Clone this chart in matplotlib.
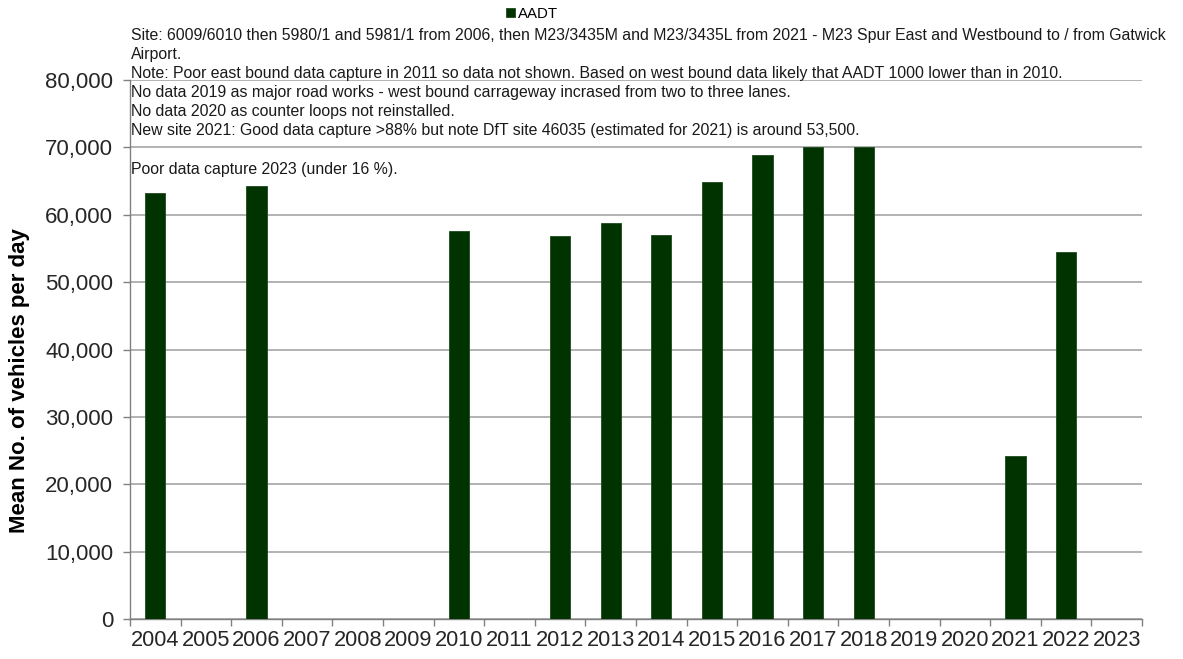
import matplotlib.pyplot as plt
import numpy as np

plt.rcParams["font.family"] = ["Liberation Sans", "DejaVu Sans"]

YEARS = [str(y) for y in range(2004, 2024)]
AADT = [63300, np.nan, 64300, np.nan, np.nan, np.nan, 57600, np.nan, 56900, 58800,
        57000, 64900, 68800, 70000, 70000, np.nan, np.nan, 24200, 54500, np.nan]

NOTES = [
    "Site: 6009/6010 then 5980/1 and 5981/1 from 2006, then M23/3435M and M23/3435L "
    "from 2021 - M23 Spur East and Westbound to / from Gatwick",
    "Airport.",
    "Note: Poor east bound data capture in 2011 so data not shown. Based on west bound "
    "data likely that AADT 1000 lower than in 2010.",
    "No data 2019 as major road works - west bound carrageway incrased from two to three lanes.",
    "No data 2020 as counter loops not reinstalled.",
    "New site 2021: Good data capture >88% but note DfT site 46035 (estimated for 2021) "
    "is around 53,500.",
    "",
    "Poor data capture 2023 (under 16 %).",
]

BAR = "#003300"
GRID = "#a6a6a6"

fig = plt.figure(figsize=(11.83, 6.59), dpi=100)
fig.patch.set_facecolor("white")
ax = fig.add_axes([0.1099, 0.0607, 0.8554, 0.8179])

x = np.arange(len(YEARS))
ax.bar(x, AADT, width=0.4, color=BAR, edgecolor="#1f4a1f", linewidth=0.6,
       label="AADT", zorder=3)

ax.set_xlim(-0.5, len(YEARS) - 0.5)
ax.set_ylim(0, 80000)
ax.set_yticks(range(0, 80001, 10000))
ax.set_yticklabels([f"{v:,}" for v in range(0, 80001, 10000)], fontsize=16,
                   color="#262626")
ax.yaxis.grid(True, color=GRID, linewidth=1.2, zorder=0)
ax.set_axisbelow(True)

ax.set_xticks(x)
ax.set_xticklabels(YEARS, fontsize=15.7, color="#262626")
ax.set_xticks(np.arange(-0.5, len(YEARS)), minor=True)
ax.tick_params(axis="x", which="major", length=0, pad=8)
ax.tick_params(axis="x", which="minor", length=5, color="#808080", width=1)
ax.tick_params(axis="y", length=5, color="#808080", width=1, pad=7)

for s in ("top", "right"):
    ax.spines[s].set_visible(False)
for s in ("left", "bottom"):
    ax.spines[s].set_color("#808080")
    ax.spines[s].set_linewidth(1)

fig.text(20 / 1183, 1 - 381 / 659, "Mean No. of vehicles per day", fontsize=16,
         fontweight="bold", rotation=90, ha="center", va="center")

fig.text(131 / 1183, 1 - 28 / 659, "\n".join(NOTES), fontsize=11.45,
         ha="left", va="top", linespacing=1.34, color="#1a1a1a")

fig.legend(loc="center", bbox_to_anchor=(532 / 1183, 1 - 14 / 659), frameon=False,
           fontsize=10.8, handlelength=0.6, handleheight=0.6, handletextpad=0.2,
           borderpad=0)

fig.savefig("out.png", dpi=100, facecolor="white")
